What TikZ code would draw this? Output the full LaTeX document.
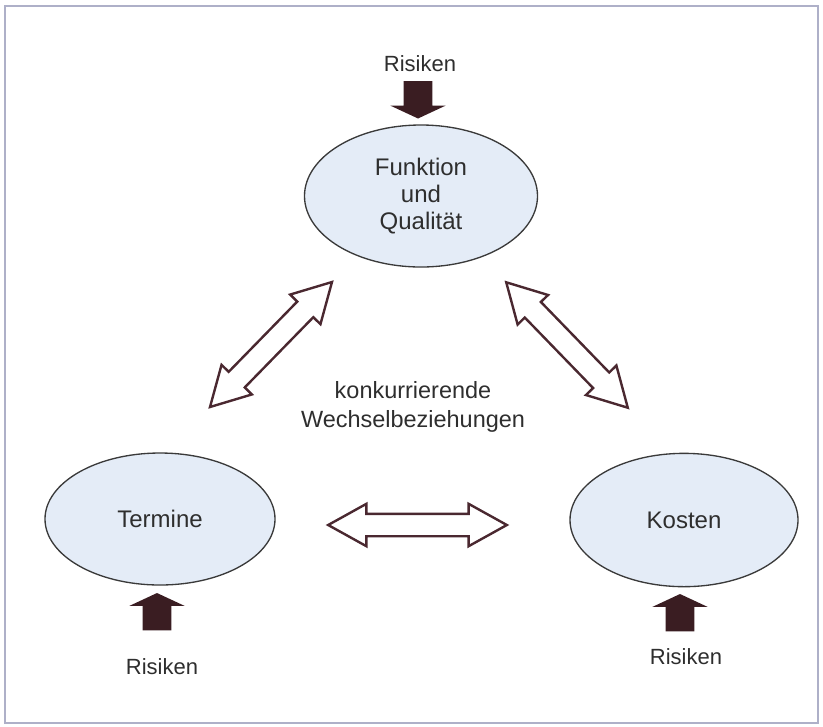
\documentclass[tikz,border=0pt]{standalone}
\usepackage{fontspec}
\setmainfont{Liberation Sans}
\usetikzlibrary{shapes.geometric,shapes.arrows}
\definecolor{ovalfill}{HTML}{E4ECF7}
\definecolor{ovalline}{HTML}{3A3A3A}
\definecolor{arrowline}{HTML}{4A2830}
\definecolor{arrowfill}{HTML}{3A1D22}
\definecolor{framecol}{HTML}{AEB0C8}
\definecolor{textcol}{HTML}{2E2E2E}
\tikzset{
  goal/.style={draw=ovalline, fill=ovalfill, ellipse, line width=1pt, inner sep=0pt, align=center,
    font=\fontsize{18}{20.3}\selectfont, text=textcol},
  rivalry/.style={double arrow, draw=arrowline, fill=white, line width=1.8pt, inner xsep=0pt, inner ysep=7.5pt,
    double arrow head extend=7.5pt, double arrow tip angle=58, minimum height=131pt},
  riskarrow/.style={single arrow, fill=arrowfill, inner xsep=0pt, inner ysep=10.5pt, single arrow head extend=10pt,
    single arrow tip angle=130, minimum height=28pt},
  risklabel/.style={font=\fontsize{16.5}{18}\selectfont, text=textcol, inner sep=0pt},
}
\begin{document}
\begin{tikzpicture}[x=0.75pt, y=-0.75pt]
\useasboundingbox (0,0) rectangle (823,726);
\draw[framecol, line width=1.2pt] (5,6) rectangle (818,723);
% the three goals
\node[goal, minimum width=174.75pt, minimum height=106.5pt] (quality) at (421,196) {Funktion\\und\\Qualität};
\node[goal, minimum width=172.5pt, minimum height=99pt] (dates) at (160,519) {Termine};
\node[goal, minimum width=171pt, minimum height=100pt] (costs) at (684,520) {Kosten};
% competing interrelations
\node[rivalry, rotate=45.7] (left) at (271,344.5) {};
\node[rivalry, rotate=-45.9] (right) at (567,345) {};
\node[rivalry, minimum height=134pt] (bottom) at (417.5,525) {};
\node[align=center, font=\fontsize{17.6}{21.5}\selectfont, text=textcol] (relations) at (413,407) {konkurrierende\\Wechselbeziehungen};
% risks
\node[risklabel] (risktop) at (420,63.5) {Risiken};
\node[riskarrow, rotate=-90] (arrowtop) at (418,96.5) {};
\node[riskarrow, rotate=90] (arrowleft) at (157,615) {};
\node[risklabel] (riskleft) at (162,667) {Risiken};
\node[riskarrow, rotate=90] (arrowright) at (680,616) {};
\node[risklabel] (riskright) at (686,657) {Risiken};
\end{tikzpicture}
\end{document}
